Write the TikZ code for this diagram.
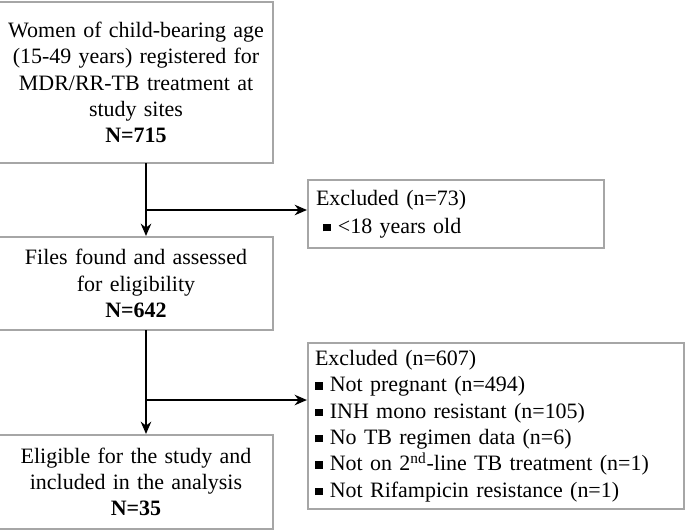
\documentclass[tikz,border=0pt]{standalone}
\usepackage{fontspec}
\setmainfont{Liberation Serif}
\usetikzlibrary{positioning,arrows.meta}
\newcommand{\sqb}{\rule[0.2ex]{0.75ex}{0.75ex}\ }
\tikzset{
  flowbox/.style={draw=gray!70, line width=1.2pt, inner sep=4pt, font=\fontsize{12.5}{15}\selectfont},
  flowarrow/.style={-{Stealth[length=7pt,width=6pt]}, line width=1pt}
}
\begin{document}
\begin{tikzpicture}[x=0.02cm,y=-0.02cm]
  \useasboundingbox (0,0) rectangle (685,531);
  % main column
  \node[flowbox, minimum width=268*0.02cm, minimum height=161*0.02cm, align=center, text width=260*0.02cm] (reg) at (136,82.5)
    {Women of child-bearing age\\(15-49 years) registered for\\MDR/RR-TB treatment at\\study sites\\\textbf{N=715}};
  \node[flowbox, minimum width=268*0.02cm, minimum height=93*0.02cm, align=center, text width=260*0.02cm] (files) at (136,283.5)
    {Files found and assessed\\for eligibility\\\textbf{N=642}};
  \node[flowbox, minimum width=268*0.02cm, minimum height=94*0.02cm, align=center, text width=260*0.02cm] (elig) at (136,482)
    {Eligible for the study and\\included in the analysis\\\textbf{N=35}};
  % exclusion boxes
  \node[flowbox, minimum width=296*0.02cm, minimum height=68*0.02cm, align=left, text width=280*0.02cm] (exc1) at (456,214)
    {Excluded (n=73)\\[1pt]\hspace*{4pt}\sqb<18 years old};
  \node[flowbox, minimum width=376*0.02cm, minimum height=148*0.02cm, align=left, text width=362*0.02cm] (exc2) at (496,426)
    {Excluded (n=607)\\
     \sqb Not pregnant (n=494)\\
     \sqb INH mono resistant (n=105)\\
     \sqb No TB regimen data (n=6)\\
     \sqb Not on 2\textsuperscript{nd}-line TB treatment (n=1)\\
     \sqb Not Rifampicin resistance (n=1)};
  % connectors
  \coordinate (b1) at (146,210);
  \coordinate (b2) at (146,400);
  \draw[flowarrow] (146,163) -- (files.north -| b1);
  \draw[flowarrow] (b1) -- (exc1.west |- b1);
  \draw[flowarrow] (146,330) -- (elig.north -| b2);
  \draw[flowarrow] (b2) -- (exc2.west |- b2);
\end{tikzpicture}
\end{document}
